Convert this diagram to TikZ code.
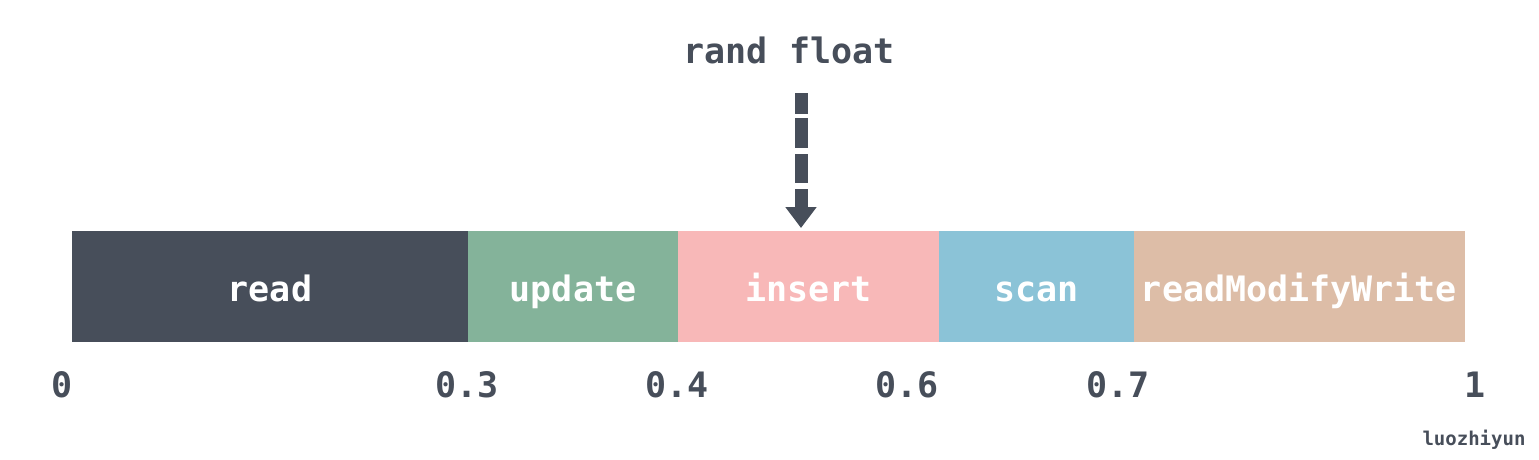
\documentclass[tikz,border=0pt]{standalone}
\usepackage{fontspec}
\setmonofont{DejaVu Sans Mono}
\usetikzlibrary{arrows.meta}
\definecolor{darkc}{HTML}{474E5A}
\definecolor{greenc}{HTML}{84B39A}
\definecolor{pinkc}{HTML}{F8B8B8}
\definecolor{bluec}{HTML}{8BC3D7}
\definecolor{tanc}{HTML}{DDBDA7}
\begin{document}
\begin{tikzpicture}[x=1pt,y=-1pt,
  seg/.style={anchor=west,inner sep=0pt,outer sep=0pt,minimum height=110pt,text=white,line width=0.6pt,
    font=\ttfamily\bfseries\fontsize{35}{40}\selectfont,text height=30pt,text depth=0pt,
    fill=#1,draw=#1},
  tick/.style={anchor=base,inner sep=0pt,text=darkc,font=\ttfamily\bfseries\fontsize{35}{40}\selectfont},
]
\useasboundingbox[fill=white] (0,0) rectangle (1539,459);
\node[seg=darkc,minimum width=396pt] (read) at (72,286) {read};
\node[seg=greenc,minimum width=210pt] (update) at (read.east) {update};
\node[seg=pinkc,minimum width=261pt] (insert) at (update.east) {insert};
\node[seg=bluec,minimum width=195pt] (scan) at (insert.east) {scan};
\node[seg=tanc,minimum width=330pt] (rmw) at (scan.east) {readModifyWrite};
\node[tick] (t0) at (62,397) {0};
\node[tick] (t3) at (467,397) {0.3};
\node[tick] (t4) at (677,397) {0.4};
\node[tick] (t6) at (907,397) {0.6};
\node[tick] (t7) at (1118,397) {0.7};
\node[tick] (t10) at (1475,397) {1};
\node[tick] (title) at (789,63) {rand float};
\node[anchor=base,inner sep=0pt,text=darkc,font=\ttfamily\bfseries\fontsize{19}{22}\selectfont] (sig) at (1474,445) {luozhiyun};
\coordinate (arrtop) at (801,93);
\draw[darkc,line width=13pt,dash pattern=on 21pt off 4pt on 30pt off 6pt on 29pt off 6pt on 60pt off 1pt,
  -{Triangle[width=30pt,length=21pt]},shorten >=3pt] (arrtop) -- (arrtop |- insert.north);
\end{tikzpicture}
\end{document}
